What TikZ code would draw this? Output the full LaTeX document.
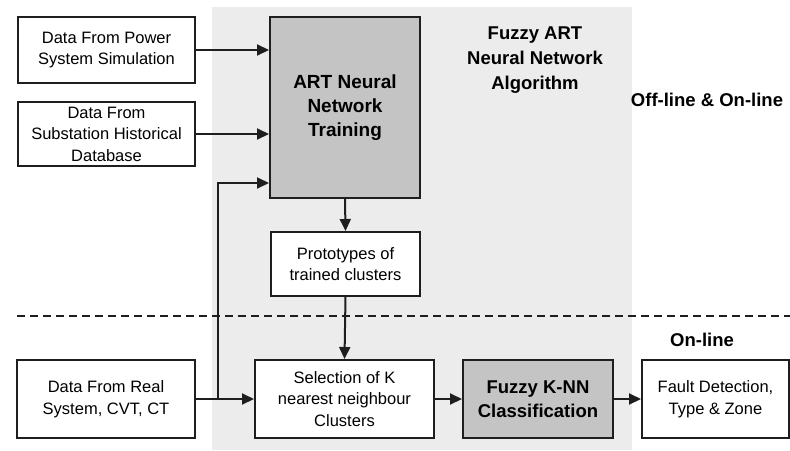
\documentclass[tikz,border=0pt]{standalone}
\usepackage{fontspec}
\setmainfont{Liberation Sans}
\usetikzlibrary{arrows.meta}
\definecolor{bgzone}{HTML}{ECECEC}
\definecolor{darkbox}{HTML}{C4C4C4}
\definecolor{lineclr}{HTML}{1E1E1E}
\tikzset{
  plainbox/.style={draw=lineclr, line width=2pt, fill=white, align=center,
    inner sep=0pt, font=\fontsize{16.5}{21.5}\selectfont},
  graybox/.style={plainbox, fill=darkbox, font=\fontsize{19}{24}\selectfont\bfseries},
  lbl/.style={align=center, inner sep=0pt, font=\fontsize{18.5}{25}\selectfont\bfseries},
  arr/.style={draw=lineclr, line width=2pt, -{Triangle[length=12pt,width=11pt]}},
  ln/.style={draw=lineclr, line width=2pt}
}
\begin{document}
\begin{tikzpicture}[x=1pt,y=-1pt]
\useasboundingbox (0,0) rectangle (790,450);
\fill[bgzone] (212,7) rectangle (632,450);
% nodes
\node[plainbox, minimum width=177pt, minimum height=66pt] (b1) at (106.5,50) {Data From Power\\System Simulation};
\node[plainbox, minimum width=177pt, minimum height=64pt] (b2) at (106.5,134) {Data From\\Substation Historical\\Database};
\node[graybox, minimum width=150pt, minimum height=181pt] (art) at (345,107.5) {ART Neural\\Network\\Training};
\node[plainbox, minimum width=149pt, minimum height=64pt] (proto) at (345.5,264) {Prototypes of\\trained clusters};
\node[plainbox, minimum width=178pt, minimum height=78pt] (real) at (106,399) {Data From Real\\System, CVT, CT};
\node[plainbox, minimum width=179pt, minimum height=78pt] (sel) at (344.5,399) {Selection of K\\nearest neighbour\\Clusters};
\node[graybox, minimum width=150pt, minimum height=78pt, font=\fontsize{18.5}{24}\selectfont\bfseries] (knn) at (538,399) {Fuzzy K-NN\\Classification};
\node[plainbox, minimum width=147pt, minimum height=78pt] (fault) at (715.5,399) {Fault Detection,\\Type \& Zone};
% labels
\node[lbl] (alg) at (535,60) {Fuzzy ART\\Neural Network\\Algorithm};
\node[lbl] (offon) at (707,100) {Off-line \& On-line};
\node[lbl] (on) at (702,340) {On-line};
% dashed separator
\coordinate (dl) at (17,316);
\coordinate (dr) at (790,316);
\draw[lineclr, line width=2pt, dash pattern=on 8pt off 5pt] (dl) -- (dr);
% connectors
\draw[arr] (b1.east) -- (b1.east -| art.west);
\draw[arr] (b2.east) -- (b2.east -| art.west);
\coordinate (j) at (218,399);
\coordinate (fb) at (218,183);
\draw[arr] (real.east) -- (sel.west);
\draw[arr] (j) -- (fb) -- (fb -| art.west);
\draw[arr] (art.south) -- (proto.north);
\draw[arr] (proto.south) -- (sel.north);
\draw[arr] (sel.east) -- (knn.west);
\draw[arr] (knn.east) -- (fault.west);
\end{tikzpicture}
\end{document}
